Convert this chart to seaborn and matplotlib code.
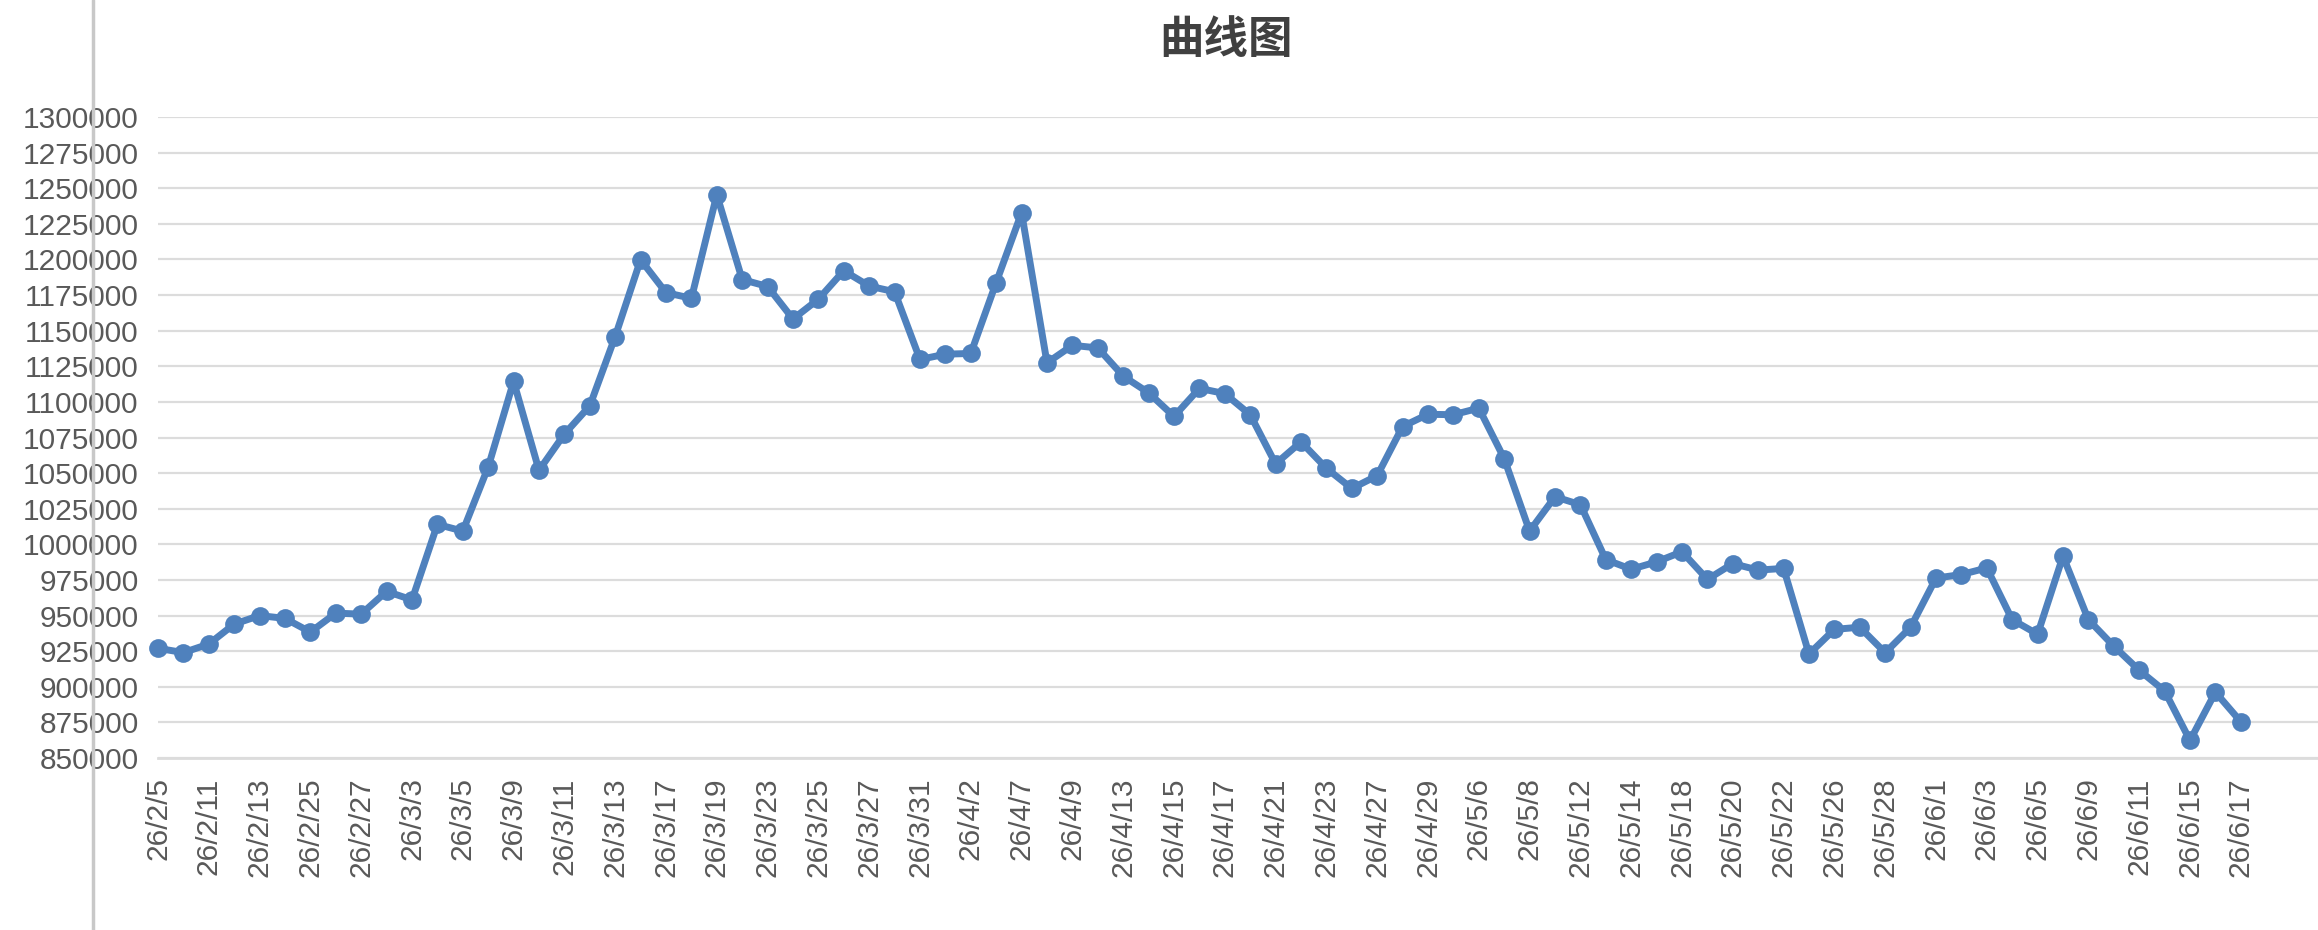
import numpy as np
import pandas as pd
import matplotlib
matplotlib.use("Agg")
import matplotlib.pyplot as plt
from matplotlib.lines import Line2D
import seaborn as sns

# 数据：每个点一个交易日，横轴只标注偶数位的日期
values = [
    927000, 924000, 930000, 944000, 950000, 948000, 938400, 951700, 951000, 967000,
    961000, 1014000, 1009300, 1054300, 1114400, 1052000, 1077400, 1097200, 1145900, 1199800,
    1176700, 1172700, 1245400, 1185900, 1181000, 1158200, 1172100, 1192100, 1181300, 1177300,
    1129800, 1133500, 1134000, 1183800, 1232800, 1127400, 1139700, 1137900, 1118100, 1106400,
    1089800, 1109500, 1105800, 1091000, 1056500, 1071900, 1053400, 1039200, 1048200, 1082700,
    1091300, 1091000, 1095600, 1060200, 1009300, 1033400, 1027800, 989300, 982500, 987700,
    994800, 975400, 986500, 981900, 983100, 923000, 940300, 941800, 923900, 941800,
    976300, 978800, 983400, 947100, 936900, 991700, 947100, 928500, 911600, 897100,
    862300, 896200, 875500,
]
date_labels = [
    "26/2/5", "26/2/11", "26/2/13", "26/2/25", "26/2/27", "26/3/3", "26/3/5", "26/3/9",
    "26/3/11", "26/3/13", "26/3/17", "26/3/19", "26/3/23", "26/3/25", "26/3/27", "26/3/31",
    "26/4/2", "26/4/7", "26/4/9", "26/4/13", "26/4/15", "26/4/17", "26/4/21", "26/4/23",
    "26/4/27", "26/4/29", "26/5/6", "26/5/8", "26/5/12", "26/5/14", "26/5/18", "26/5/20",
    "26/5/22", "26/5/26", "26/5/28", "26/6/1", "26/6/3", "26/6/5", "26/6/9", "26/6/11",
    "26/6/15", "26/6/17",
]
y_ticks = list(range(850000, 1300001, 25000))

df = pd.DataFrame({"idx": np.arange(len(values)), "value": values})

sns.set_theme(style="white")
plt.rcParams['font.family'] = ['Liberation Sans', 'Noto Sans CJK SC', 'DejaVu Sans']

W, H = 2318, 930
fig = plt.figure(figsize=(W / 100, H / 100), dpi=100)
ax = fig.add_axes([158 / W, (H - 758) / H, (W - 158) / W, (758 - 117) / H])

line_color = "#4f81bd"
sns.lineplot(data=df, x="idx", y="value", ax=ax, color=line_color, linewidth=5,
             marker="o", markersize=13.5, markeredgewidth=0, clip_on=False)

ax.set_xlim(0, (W - 158) / 25.4)
ax.set_ylim(850000, 1300000)

ax.set_yticks(y_ticks)
ax.set_yticklabels([str(v) for v in y_ticks])
n_ticks = int(ax.get_xlim()[1]) + 1
xt = np.arange(n_ticks)
xl = []
for i in xt:
    if i % 2 == 0 and i // 2 < len(date_labels):
        xl.append(date_labels[i // 2])
    else:
        xl.append("")
ax.set_xticks(xt)
ax.set_xticklabels(xl, rotation=90)

grid_c = "#dcdcdc"
ax.yaxis.grid(True, color=grid_c, linewidth=1.6)
ax.xaxis.grid(False)
ax.set_axisbelow(True)
for s in ["top", "right", "left"]:
    ax.spines[s].set_visible(False)
ax.spines["bottom"].set_color(grid_c)
ax.spines["bottom"].set_linewidth(2)

ax.tick_params(axis="y", length=0, pad=14, labelsize=21.5, labelcolor="#595959")
ax.tick_params(axis="x", direction="inout", length=16, width=2, color=grid_c,
               pad=6, labelsize=21.5, labelcolor="#595959")
ax.set_xlabel("")
ax.set_ylabel("")

fig.text(1226 / W, 1 - 40 / H, "曲线图", ha="center", va="center", fontsize=32,
         fontweight="bold", color="#404040", family=['Noto Sans CJK SC', 'DejaVu Sans'])

# 左侧那条灰色竖线
fig.add_artist(Line2D([93 / W, 93 / W], [0, 1], color="#c8c8c8", linewidth=2.5,
                      transform=fig.transFigure))

fig.savefig("out.png", dpi=100)
